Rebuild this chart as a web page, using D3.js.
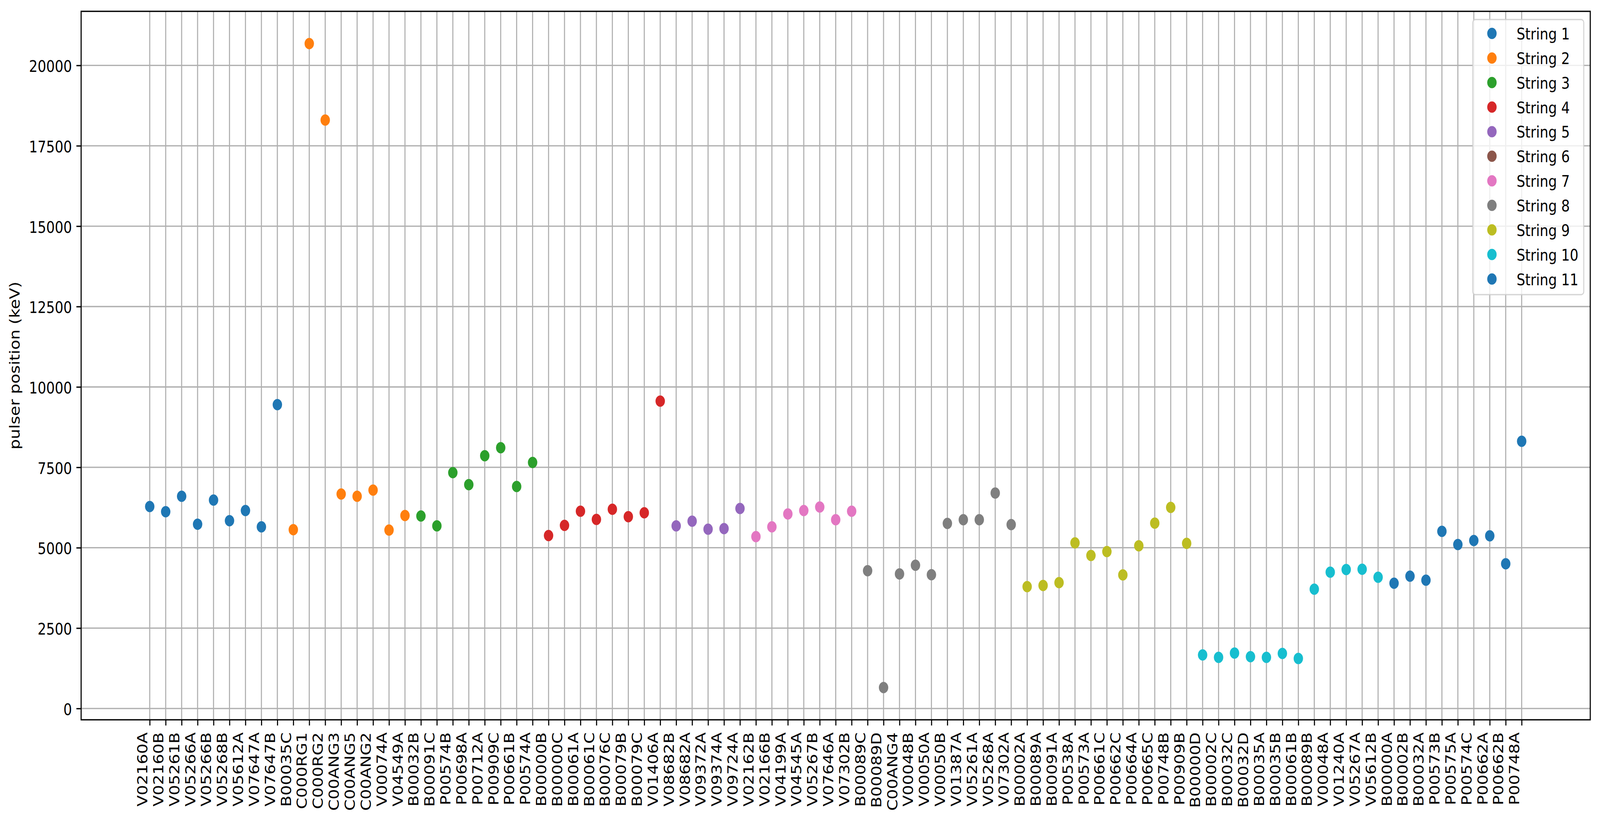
<!DOCTYPE html>
<html>
<head>
<meta charset="utf-8">
<script src="https://cdn.jsdelivr.net/npm/d3@7"></script>
<style>
  html, body { margin: 0; padding: 0; background: #ffffff; overflow: hidden; width: 100%; height: 100%; }
  svg { display: block; width: 100vw; height: 100vh; }
  text { font-family: "DejaVu Sans", sans-serif; fill: #000; }
</style>
</head>
<body>
<svg id="chart" viewBox="0 0 4930 2101" preserveAspectRatio="none"></svg>
<script>
// ---- data ----
const categories = [
  "V02160A","V02160B","V05261B","V05266A","V05266B","V05268B","V05612A","V07647A","V07647B",
  "B00035C","C000RG1","C000RG2","C00ANG3","C00ANG5","C00ANG2","V00074A","V04549A",
  "B00032B","B00091C","P00574B","P00698A","P00712A","P00909C","P00661B","P00574A",
  "B00000B","B00000C","B00061A","B00061C","B00076C","B00079B","B00079C","V01406A",
  "V08682B","V08682A","V09372A","V09374A","V09724A",
  "V02162B","V02166B","V04199A","V04545A","V05267B","V07646A","V07302B",
  "B00089C","B00089D","C00ANG4","V00048B","V00050A","V00050B","V01387A","V05261A","V05268A","V07302A",
  "B00002A","B00089A","B00091A","P00538A","P00573A","P00661C","P00662C","P00664A","P00665C","P00748B","P00909B",
  "B00000D","B00002C","B00032C","B00032D","B00035A","B00035B","B00061B","B00089B","V00048A","V01240A","V05267A","V05612B",
  "B00000A","B00002B","B00032A","P00573B","P00575A","P00574C","P00662A","P00662B","P00748A"
];
const pulserPos = [
  6280,6120,6600,5730,6480,5840,6155,5650,9450,
  5560,20680,18300,6670,6600,6790,5550,6000,
  5985,5680,7335,6960,7860,8110,6905,7650,
  5380,5695,6135,5880,6195,5965,6085,9560,
  5680,5825,5575,5595,6220,
  5345,5650,6050,6155,6265,5870,6135,
  4285,650,4185,4455,4160,5755,5870,5870,6700,5720,
  3790,3825,3915,5150,4760,4880,4155,5060,5765,6255,5135,
  1665,1590,1725,1610,1590,1710,1555,3710,4240,4320,4330,4080,
  3895,4115,3990,5510,5100,5225,5370,4500,8310
];
const stringId = [
  1,1,1,1,1,1,1,1,1,
  2,2,2,2,2,2,2,2,
  3,3,3,3,3,3,3,3,
  4,4,4,4,4,4,4,4,
  5,5,5,5,5,
  7,7,7,7,7,7,7,
  8,8,8,8,8,8,8,8,8,8,
  9,9,9,9,9,9,9,9,9,9,9,
  10,10,10,10,10,10,10,10,10,10,10,10,
  11,11,11,11,11,11,11,11,11
];
const seriesNames = ["String 1","String 2","String 3","String 4","String 5","String 6",
                     "String 7","String 8","String 9","String 10","String 11"];
const yTicks = [0,2500,5000,7500,10000,12500,15000,17500,20000];
const yLabel = "pulser position (keV)";

// ---- layout ----
const FS = 41.67;           // 10pt @ 300dpi
const LW = 3.33;            // 0.8pt
const TICK = 14.6;          // 3.5pt
const plot = {left: 250, right: 4900, top: 29, bottom: 1842};
const color = i => d3.schemeCategory10[i % 10];

const svg = d3.select("#chart");
svg.append("rect").attr("width", 4930).attr("height", 2101).attr("fill", "#fff");

const n = categories.length;
const x = d3.scalePoint()
  .domain(categories)
  .range([plot.left, plot.right])
  .padding(0.05 * (n - 1));

const ext = d3.extent(pulserPos);
const m = 0.05 * (ext[1] - ext[0]);
const y = d3.scaleLinear()
  .domain([ext[0] - m, ext[1] + m])
  .range([plot.bottom, plot.top]);

// grid
const grid = svg.append("g").attr("stroke", "#b0b0b0").attr("stroke-width", LW);
grid.selectAll("line.v").data(categories).join("line")
  .attr("class", "v")
  .attr("x1", d => x(d)).attr("x2", d => x(d))
  .attr("y1", plot.top).attr("y2", plot.bottom);
grid.selectAll("line.h").data(yTicks).join("line")
  .attr("class", "h")
  .attr("x1", plot.left).attr("x2", plot.right)
  .attr("y1", d => y(d)).attr("y2", d => y(d));

// points
const pts = categories.map((c, i) => ({c, v: pulserPos[i], s: stringId[i]}));
svg.append("g").selectAll("circle").data(pts).join("circle")
  .attr("cx", d => x(d.c))
  .attr("cy", d => y(d.v))
  .attr("r", 14.5)
  .attr("fill", d => color(d.s - 1));

// axes
const xAxis = d3.axisBottom(x).tickSize(TICK).tickSizeOuter(0).tickPadding(TICK);
const gx = svg.append("g").attr("transform", `translate(0,${plot.bottom})`).call(xAxis);
gx.select(".domain").remove();
gx.selectAll(".tick line").attr("stroke", "#000").attr("stroke-width", LW);
gx.selectAll(".tick text")
  .attr("font-size", FS).attr("font-family", "DejaVu Sans")
  .attr("transform", "rotate(-90)")
  .attr("text-anchor", "end")
  .attr("x", -(2 * TICK + 3))
  .attr("y", -8)
  .attr("dy", null);

const yAxis = d3.axisLeft(y).tickValues(yTicks).tickFormat(d3.format("d"))
  .tickSize(TICK).tickSizeOuter(0).tickPadding(TICK);
const gy = svg.append("g").attr("transform", `translate(${plot.left},0)`).call(yAxis);
gy.select(".domain").remove();
gy.selectAll(".tick line").attr("stroke", "#000").attr("stroke-width", LW);
gy.selectAll(".tick text")
  .attr("font-size", FS).attr("font-family", "DejaVu Sans")
  .attr("x", -(2 * TICK - 1))
  .attr("dy", "0.39em");

// spines
svg.append("rect")
  .attr("x", plot.left).attr("y", plot.top)
  .attr("width", plot.right - plot.left).attr("height", plot.bottom - plot.top)
  .attr("fill", "none").attr("stroke", "#000").attr("stroke-width", LW);

// y label
svg.append("text")
  .attr("transform", `translate(60,${(plot.top + plot.bottom) / 2}) rotate(-90)`)
  .attr("text-anchor", "middle")
  .attr("font-size", FS)
  .text(yLabel);

// legend
const lg = svg.append("g");
lg.append("rect")
  .attr("x", 4538).attr("y", 50).attr("width", 342).attr("height", 704)
  .attr("rx", 8).attr("ry", 8)
  .attr("fill", "#fff").attr("fill-opacity", 0.8)
  .attr("stroke", "#cccccc").attr("stroke-opacity", 0.8).attr("stroke-width", LW);
const rowY = d3.scaleLinear().domain([0, seriesNames.length - 1]).range([85.6, 714]);
const items = lg.selectAll("g.item").data(seriesNames).join("g")
  .attr("class", "item")
  .attr("transform", (d, i) => `translate(0,${rowY(i)})`);
items.append("circle").attr("cx", 4597).attr("cy", 0).attr("r", 14.5)
  .attr("fill", (d, i) => color(i));
items.append("text").attr("x", 4673).attr("y", 15.5)
  .attr("font-size", FS).text(d => d);
</script>
</body>
</html>
